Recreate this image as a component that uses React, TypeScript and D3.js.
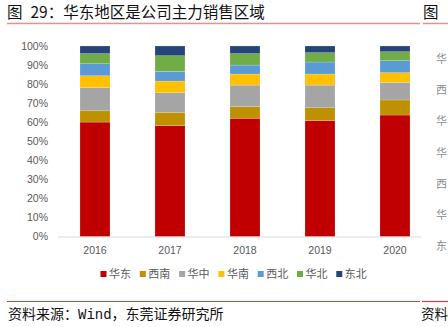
import React from "react";
import * as d3 from "d3";

const years = ["2016", "2017", "2018", "2019", "2020"];
const regions = ["华东", "西南", "华中", "华南", "西北", "华北", "东北"];
const colors = ["#C00000", "#BF9000", "#A5A5A5", "#FFC000", "#5B9BD5", "#70AD47", "#264478"];
const huadong = [60.1, 58.2, 62.1, 60.8, 63.8];
const xinan = [5.9, 7.0, 6.1, 6.8, 7.9];
const huazhong = [12.1, 10.3, 11.3, 11.9, 9.2];
const huanan = [6.3, 6.1, 5.8, 5.8, 5.1];
const xibei = [6.3, 5.1, 4.7, 6.3, 6.3];
const huabei = [5.3, 8.2, 6.0, 4.9, 4.7];
const dongbei = [4.0, 5.1, 4.0, 3.5, 3.0];
const yTicks = [0, 10, 20, 30, 40, 50, 60, 70, 80, 90, 100];
const rightTexts = ["华", "西", "华", "华", "西", "华", "东"];

const seriesValues = [huadong, xinan, huazhong, huanan, xibei, huabei, dongbei];

export default function App() {
  const rows = years.map((y, i) => {
    const r: any = { year: y };
    regions.forEach((k, j) => (r[k] = seriesValues[j][i]));
    return r;
  });
  const stack = d3.stack().keys(regions).offset(d3.stackOffsetExpand);
  const layers = stack(rows);

  const x = d3.scaleBand().domain(years).range([57.5, 432.5]).paddingInner(0.6).paddingOuter(0.3);
  const y = d3.scaleLinear().domain([0, 1]).range([236.7, 46]);

  const cjk = "'Noto Sans CJK SC', sans-serif";
  const axisFont = "'Liberation Sans', 'Noto Sans CJK SC', sans-serif";

  return (
    <svg width={448} height={327} style={{ position: "absolute", left: 0, top: 0, background: "#fff" }}>
      <rect x={0} y={0} width={448} height={327} fill="#fff" />
      {/* title */}
      <text x={7} y={18} fontFamily={cjk} fontSize={15.5} fill="#111">
        <tspan>图</tspan>
        <tspan dx={8}>29：华东地区是公司主力销售区域</tspan>
      </text>
      <text x={423} y={18} fontFamily={cjk} fontSize={15.5} fill="#111">
        <tspan>图</tspan>
      </text>
      <line x1={7} x2={420} y1={23.5} y2={23.5} stroke="#f08c8c" strokeWidth={1.5} />
      <line x1={423} x2={448} y1={23.5} y2={23.5} stroke="#f08c8c" strokeWidth={1.5} />

      {/* y ticks */}
      {yTicks.map((t) => (
        <text key={t} x={48} y={y(t / 100)} dy="0.35em" textAnchor="end" fontFamily={axisFont} fontSize={10.5} fill="#595959">
          {t}%
        </text>
      ))}

      {/* bars */}
      {layers.map((layer, li) => (
        <g key={regions[li]} fill={colors[li]}>
          {layer.map((d: any, i) => (
            <rect
              key={i}
              x={x(d.data.year)}
              y={y(d[1])}
              width={x.bandwidth()}
              height={y(d[0]) - y(d[1])}
              stroke="#fff"
              strokeOpacity={0.35}
              strokeWidth={0.5}
            />
          ))}
        </g>
      ))}

      {/* x axis */}
      <line x1={58} x2={421} y1={237} y2={237} stroke="#d9d9d9" strokeWidth={1} />
      {years.map((yr) => (
        <text key={yr} x={(x(yr) as number) + x.bandwidth() / 2} y={254} textAnchor="middle" fontFamily={axisFont} fontSize={10.5} fill="#595959">
          {yr}
        </text>
      ))}

      {/* legend */}
      {regions.map((r, i) => {
        const lx = 100.5 + i * 39.3;
        return (
          <g key={r}>
            <rect x={lx} y={271} width={6} height={6} fill={colors[i]} />
            <text x={lx + 8.5} y={278} fontFamily={cjk} fontSize={11} fill="#595959">{r}</text>
          </g>
        );
      })}

      {/* neighbouring chart fragment */}
      {rightTexts.map((t, i) => (
        <text key={i} x={436} y={63 + i * 31.2} fontFamily={cjk} fontSize={11} fill="#8c8c8c">{t}</text>
      ))}

      {/* footer */}
      <line x1={7} x2={420} y1={301.5} y2={301.5} stroke="#e03c3c" strokeWidth={1.2} />
      <line x1={422} x2={448} y1={301.5} y2={301.5} stroke="#e03c3c" strokeWidth={1.2} />
      <text x={8} y={319} fontSize={14} fill="#111">
        <tspan fontFamily={cjk}>资料来源：</tspan>
        <tspan fontFamily="'Liberation Mono', 'DejaVu Sans Mono', monospace">Wind</tspan>
        <tspan fontFamily={cjk}>，东莞证券研究所</tspan>
      </text>
      <text x={421} y={319} fontFamily={cjk} fontSize={13.5} fill="#111">资料</text>
    </svg>
  );
}
